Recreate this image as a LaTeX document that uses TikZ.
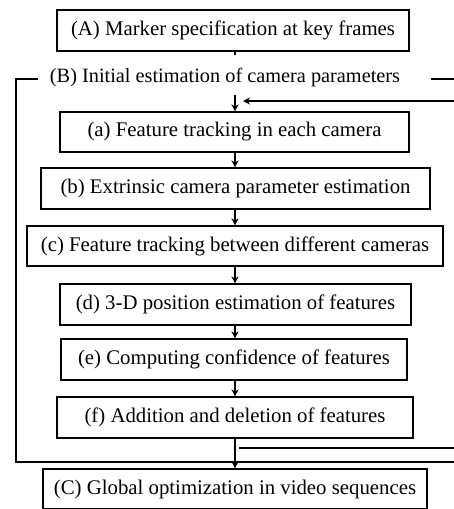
\documentclass[tikz,border=0pt]{standalone}
\usepackage{fontspec}
\setmainfont{Liberation Serif}
\usetikzlibrary{arrows.meta}
\begin{document}
\begin{tikzpicture}[x=1pt,y=-1pt,
  stepbox/.style={draw,line width=1.1pt,inner sep=0pt,font=\fontsize{20.8}{24}\selectfont},
  arr/.style={line width=1.7pt,-{Stealth[length=7pt,width=7pt]}},
  ln/.style={line width=1.1pt},
  lnb/.style={line width=1.7pt}]
\useasboundingbox (0,0) rectangle (454,509);
\coordinate (col) at (235,0);
\node[stepbox,minimum width=352pt,minimum height=41pt] (A) at (233,30.5) {(A) Marker specification at key frames};
\node[font=\fontsize{20.3}{24}\selectfont,inner sep=0pt] (lB) at (225,78) {(B) Initial estimation of camera parameters};
\node[stepbox,minimum width=349pt,minimum height=40pt] (a) at (234.5,132) {(a) Feature tracking in each camera};
\node[stepbox,minimum width=389pt,minimum height=41pt] (b) at (235.5,188.5) {(b) Extrinsic camera parameter estimation};
\node[stepbox,minimum width=416pt,minimum height=40pt] (c) at (235,246) {(c) Feature tracking between different cameras};
\node[stepbox,minimum width=351pt,minimum height=41pt] (d) at (235.5,304.5) {(d) 3-D position estimation of features};
\node[stepbox,minimum width=346pt,minimum height=41pt] (e) at (234,359.5) {(e) Computing confidence of features};
\node[stepbox,minimum width=356pt,minimum height=41pt] (f) at (235,417.5) {(f) Addition and deletion of features};
\node[stepbox,minimum width=384pt,minimum height=40pt] (C) at (235,489) {(C) Global optimization in video sequences};
% frame of (B)
\draw[ln] (38,79) -- (16,79) -- (16,462) -- (454,462);
\draw[ln] (431,79) -- (454,79);
% stub below A
\draw[lnb] (A.south -| col) -- ++(0,3);
% feedback in
\coordinate (fbin) at (454,101);
\coordinate (fbtip) at (243,101);
\draw[arr] (fbin) -- (fbtip);
\coordinate (dstart) at (235,95);
\draw[arr] (dstart) -- (a.north -| col);
\draw[arr] (a.south -| col) -- (b.north -| col);
\draw[arr] (b.south -| col) -- (c.north -| col);
\draw[arr] (c.south -| col) -- (d.north -| col);
\draw[arr] (d.south -| col) -- (e.north -| col);
\draw[arr] (e.south -| col) -- (f.north -| col);
\draw[arr] (f.south -| col) -- (C.north -| col);
% feedback out
\coordinate (fbo1) at (239,448);
\coordinate (fbo2) at (454,448);
\draw[lnb] (fbo1) -- (fbo2);
\end{tikzpicture}
\end{document}
